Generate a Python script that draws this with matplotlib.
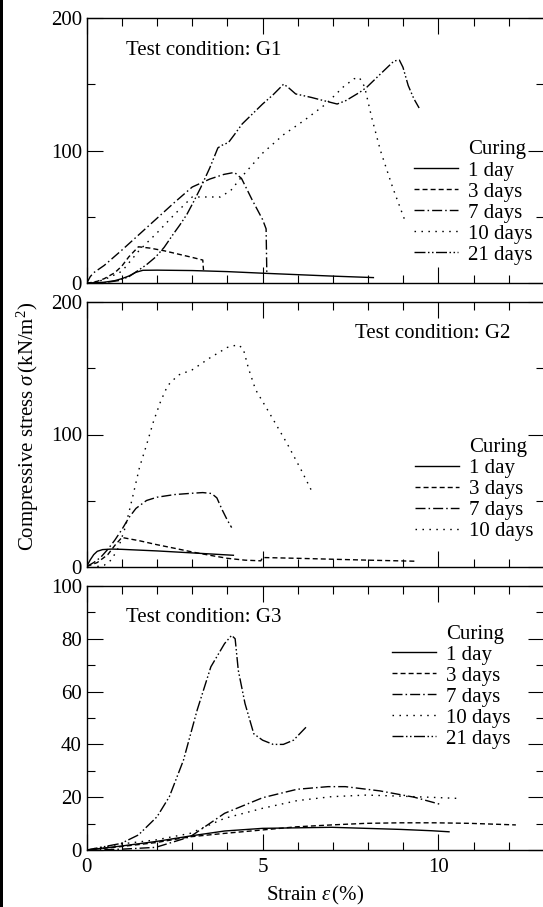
import matplotlib
matplotlib.use('Agg')
import matplotlib.pyplot as plt
from matplotlib.lines import Line2D
from matplotlib.patches import Rectangle
from matplotlib.ticker import MultipleLocator, FixedLocator

plt.rcParams['font.family'] = ['Liberation Serif', 'DejaVu Serif']
plt.rcParams['mathtext.fontset'] = 'custom'
plt.rcParams['mathtext.rm'] = 'Liberation Serif'
plt.rcParams['mathtext.it'] = 'Liberation Serif:italic'
plt.rcParams['font.size'] = 15

# ---------------- data: Test condition G1 ----------------
g1_1d_x = [0, 0.5, 0.8, 1.0, 1.2, 1.4, 1.6, 2.0, 3.0, 4.0, 5.0, 6.0, 7.0, 8.15]
g1_1d_y = [0, 0.8, 2.0, 3.5, 5.5, 8.3, 9.8, 9.9, 9.6, 8.8, 7.6, 6.5, 5.4, 4.3]
g1_3d_x = [0, 0.3, 0.5, 0.8, 1.0, 1.2, 1.47, 1.8, 2.2, 2.6, 3.0, 3.3, 3.32]
g1_3d_y = [0, 1.5, 3.5, 8, 13, 20, 27.5, 26.5, 24.5, 22, 19.5, 17.5, 10]
g1_7d_x = [0, 0.1, 0.2, 0.5, 1.0, 1.5, 2.0, 2.5, 3.0, 3.5, 3.9, 4.2, 4.4, 4.7, 5.0, 5.1, 5.12]
g1_7d_y = [0, 5, 8, 13.5, 25, 37, 49, 61, 72.5, 78.5, 82, 83.5, 79, 63, 48, 41, 8]
g1_10d_x = [0, 0.3, 0.6, 1.0, 1.5, 2.0, 2.5, 3.0, 3.4, 3.8, 4.1, 4.4, 5.0, 5.6, 6.2, 6.8,
            7.3, 7.6, 7.75, 7.9, 8.1, 8.35, 8.7, 9.05]
g1_10d_y = [0, 1, 4, 9, 25, 38, 52, 65, 65, 65, 70, 80, 98, 112, 123, 135,
            148, 154, 155, 148, 125, 100, 72, 47]
g1_21d_x = [0, 0.5, 0.9, 1.2, 1.47, 1.7, 1.96, 2.2, 2.46, 2.65, 2.85, 3.05, 3.24, 3.5, 3.73,
            3.85, 4.03, 4.2, 4.42, 5.0, 5.3, 5.6, 5.75, 5.94, 6.38, 6.73, 7.12, 7.37, 7.76,
            7.96, 8.35, 8.74, 8.89, 8.99, 9.14, 9.3, 9.45]
g1_21d_y = [0, 0.5, 2, 5, 9.8, 14, 19.8, 27, 37, 44, 52, 62, 72, 87, 102,
            104, 106, 112, 120, 135, 142, 150, 147, 142.6, 140, 137.6, 135, 137.6, 143.8,
            147.6, 157.6, 167.5, 168, 162.7, 148.9, 139, 132]

# ---------------- data: Test condition G2 ----------------
g2_1d_x = [0, 0.1, 0.2, 0.3, 0.45, 0.7, 1.0, 2.0, 3.0, 4.17]
g2_1d_y = [0, 5, 9, 11.5, 12.8, 13.2, 13, 11.8, 10.3, 8.5]
g2_3d_x = [0, 0.3, 0.6, 0.8, 1.0, 1.5, 2.0, 2.5, 3.0, 3.5, 4.0, 4.5, 4.95, 5.0, 6.0, 7.0, 8.0, 9.35]
g2_3d_y = [0, 3, 9, 16, 22, 19.5, 16.5, 13.8, 11, 8.5, 6.2, 4.8, 4.3, 6.8, 6.2, 5.5, 4.8, 4]
g2_7d_x = [0, 0.2, 0.4, 0.6, 0.8, 1.0, 1.2, 1.4, 1.7, 2.0, 2.5, 3.0, 3.3, 3.55, 3.7, 3.85, 4.0, 4.12]
g2_7d_y = [0, 3, 7, 13, 20, 28, 37, 44, 50, 52.5, 54.5, 55.5, 56, 55.3, 52, 43, 35, 29.5]
g2_10d_x = [0.3, 0.5, 0.7, 0.9, 1.1, 1.3, 1.5, 1.7, 1.9, 2.1, 2.3, 2.6, 3.0, 3.5, 4.0, 4.3,
            4.45, 4.6, 4.8, 5.2, 5.7, 6.1, 6.4]
g2_10d_y = [0, 1, 5, 14, 30, 52, 75, 92, 110, 125, 137, 145, 149, 158, 166, 168,
            165, 150, 134, 116, 93, 73, 57]

# ---------------- data: Test condition G3 ----------------
g3_1d_x = [0, 0.98, 1.96, 2.94, 3.92, 5.0, 5.98, 6.96, 7.94, 8.92, 9.8, 10.3]
g3_1d_y = [0, 1.5, 3.2, 5.3, 7.2, 8.2, 8.4, 8.6, 8.2, 7.8, 7.3, 6.9]
g3_3d_x = [0, 0.98, 1.96, 2.94, 3.92, 5.0, 5.98, 6.96, 7.94, 8.92, 9.9, 10.88, 12.2]
g3_3d_y = [0, 1.3, 2.8, 5.0, 6.3, 7.6, 8.8, 9.5, 10.1, 10.3, 10.3, 10.1, 9.5]
g3_7d_x = [0, 0.98, 1.96, 2.94, 3.92, 5.0, 5.98, 6.86, 7.35, 8.33, 9.31, 10.05]
g3_7d_y = [0, 0.3, 1.0, 5.0, 13.9, 19.8, 23, 24, 24, 22.4, 20, 17.3]
g3_10d_x = [0, 0.98, 1.96, 2.94, 3.92, 5.0, 5.98, 6.96, 7.94, 8.92, 9.9, 10.64]
g3_10d_y = [0, 2.3, 3.8, 6.3, 12, 15.8, 18.7, 20.2, 20.8, 20.4, 19.9, 19.5]
g3_21d_x = [0, 0.98, 1.47, 2.0, 2.35, 2.75, 3.14, 3.53, 3.92, 4.12, 4.22, 4.31, 4.5, 4.75,
            5.0, 5.3, 5.59, 5.88, 6.27]
g3_21d_y = [0, 2.5, 5.7, 12.6, 20.2, 34, 53, 69.4, 78.2, 81.3, 80, 68, 55.5, 44,
            41.6, 40, 40, 41.6, 47]

curing_labels = ['1 day', '3 days', '7 days', '10 days', '21 days']
panel_titles = ['Test condition: G1', 'Test condition: G2', 'Test condition: G3']

# ---------------- styles ----------------
LW = 1.0
styles = {
    '1 day': '-',
    '3 days': (0, (3.6, 2.2)),
    '7 days': (0, (7.2, 2.2, 1.1, 2.2)),
    '10 days': (0, (1.1, 3.9)),
    '21 days': (0, (7.9, 1.8, 1.1, 1.8, 1.1, 1.8)),
}

panels = [
    [(g1_1d_x, g1_1d_y), (g1_3d_x, g1_3d_y), (g1_7d_x, g1_7d_y), (g1_10d_x, g1_10d_y), (g1_21d_x, g1_21d_y)],
    [(g2_1d_x, g2_1d_y), (g2_3d_x, g2_3d_y), (g2_7d_x, g2_7d_y), (g2_10d_x, g2_10d_y)],
    [(g3_1d_x, g3_1d_y), (g3_3d_x, g3_3d_y), (g3_7d_x, g3_7d_y), (g3_10d_x, g3_10d_y), (g3_21d_x, g3_21d_y)],
]

W, H = 543, 907
fig = plt.figure(figsize=(W / 100, H / 100), dpi=100)

ax_left = 86.7 / W
ax_w = 457.3 / W
boxes = [(17.7, 283.3), (302.5, 566.5), (586.0, 850.0)]
ylims = [200, 200, 100]
title_pos = [(0.086, 0.878), (0.587, 0.884), (0.086, 0.879)]
leg_pos = [(0.716, 0.305), (0.718, 0.292), (0.668, 0.620)]

axes = []
for i, (top, bot) in enumerate(boxes):
    ax = fig.add_axes([ax_left, 1 - bot / H, ax_w, (bot - top) / H])
    axes.append(ax)
    handles = [Line2D([], [], color='none', label='Curing')]
    for (xs, ys), lab in zip(panels[i], curing_labels):
        ln, = ax.plot(xs, ys, color='black', lw=LW, linestyle=styles[lab], label=lab)
        handles.append(ln)
    ax.set_xlim(0, 13)
    ax.set_ylim(0, ylims[i])
    ax.xaxis.set_major_locator(FixedLocator([0, 5, 10]))
    ax.xaxis.set_minor_locator(MultipleLocator(1))
    if ylims[i] == 200:
        ax.yaxis.set_major_locator(FixedLocator([0, 100, 200]))
        ax.yaxis.set_minor_locator(MultipleLocator(50))
    else:
        ax.yaxis.set_major_locator(MultipleLocator(20))
        ax.yaxis.set_minor_locator(MultipleLocator(10))
    ax.tick_params(which='both', direction='in', top=True, right=True, width=0.8,
                   labelsize=15, pad=3.5)
    ax.tick_params(which='major', length=11.5)
    ax.tick_params(which='minor', length=6)
    ax.tick_params(axis='x', pad=6)
    if i < 2:
        ax.tick_params(axis='x', labelbottom=False)
    for s in ax.spines.values():
        s.set_linewidth(1.0)
    ax.text(title_pos[i][0], title_pos[i][1], panel_titles[i], transform=ax.transAxes,
            ha='left', va='center', fontsize=15)
    ax.legend(handles=handles, loc='center left', bbox_to_anchor=leg_pos[i], frameon=False,
              borderpad=0, borderaxespad=0, handlelength=2.1, handletextpad=0.48,
              labelspacing=0.07, fontsize=15)

axes[2].set_xlabel(r'Strain $\varepsilon\,$(%)', fontsize=15, labelpad=5)
fig.text(28 / W, 1 - 426 / H, r'Compressive stress $\sigma\,$(kN/m$^2$)', rotation=90,
         ha='center', va='center', fontsize=15)

fig.patches.append(Rectangle((0, 0), 3 / W, 1, transform=fig.transFigure,
                             facecolor='black', edgecolor='none'))

fig.savefig('out.png', dpi=100)
